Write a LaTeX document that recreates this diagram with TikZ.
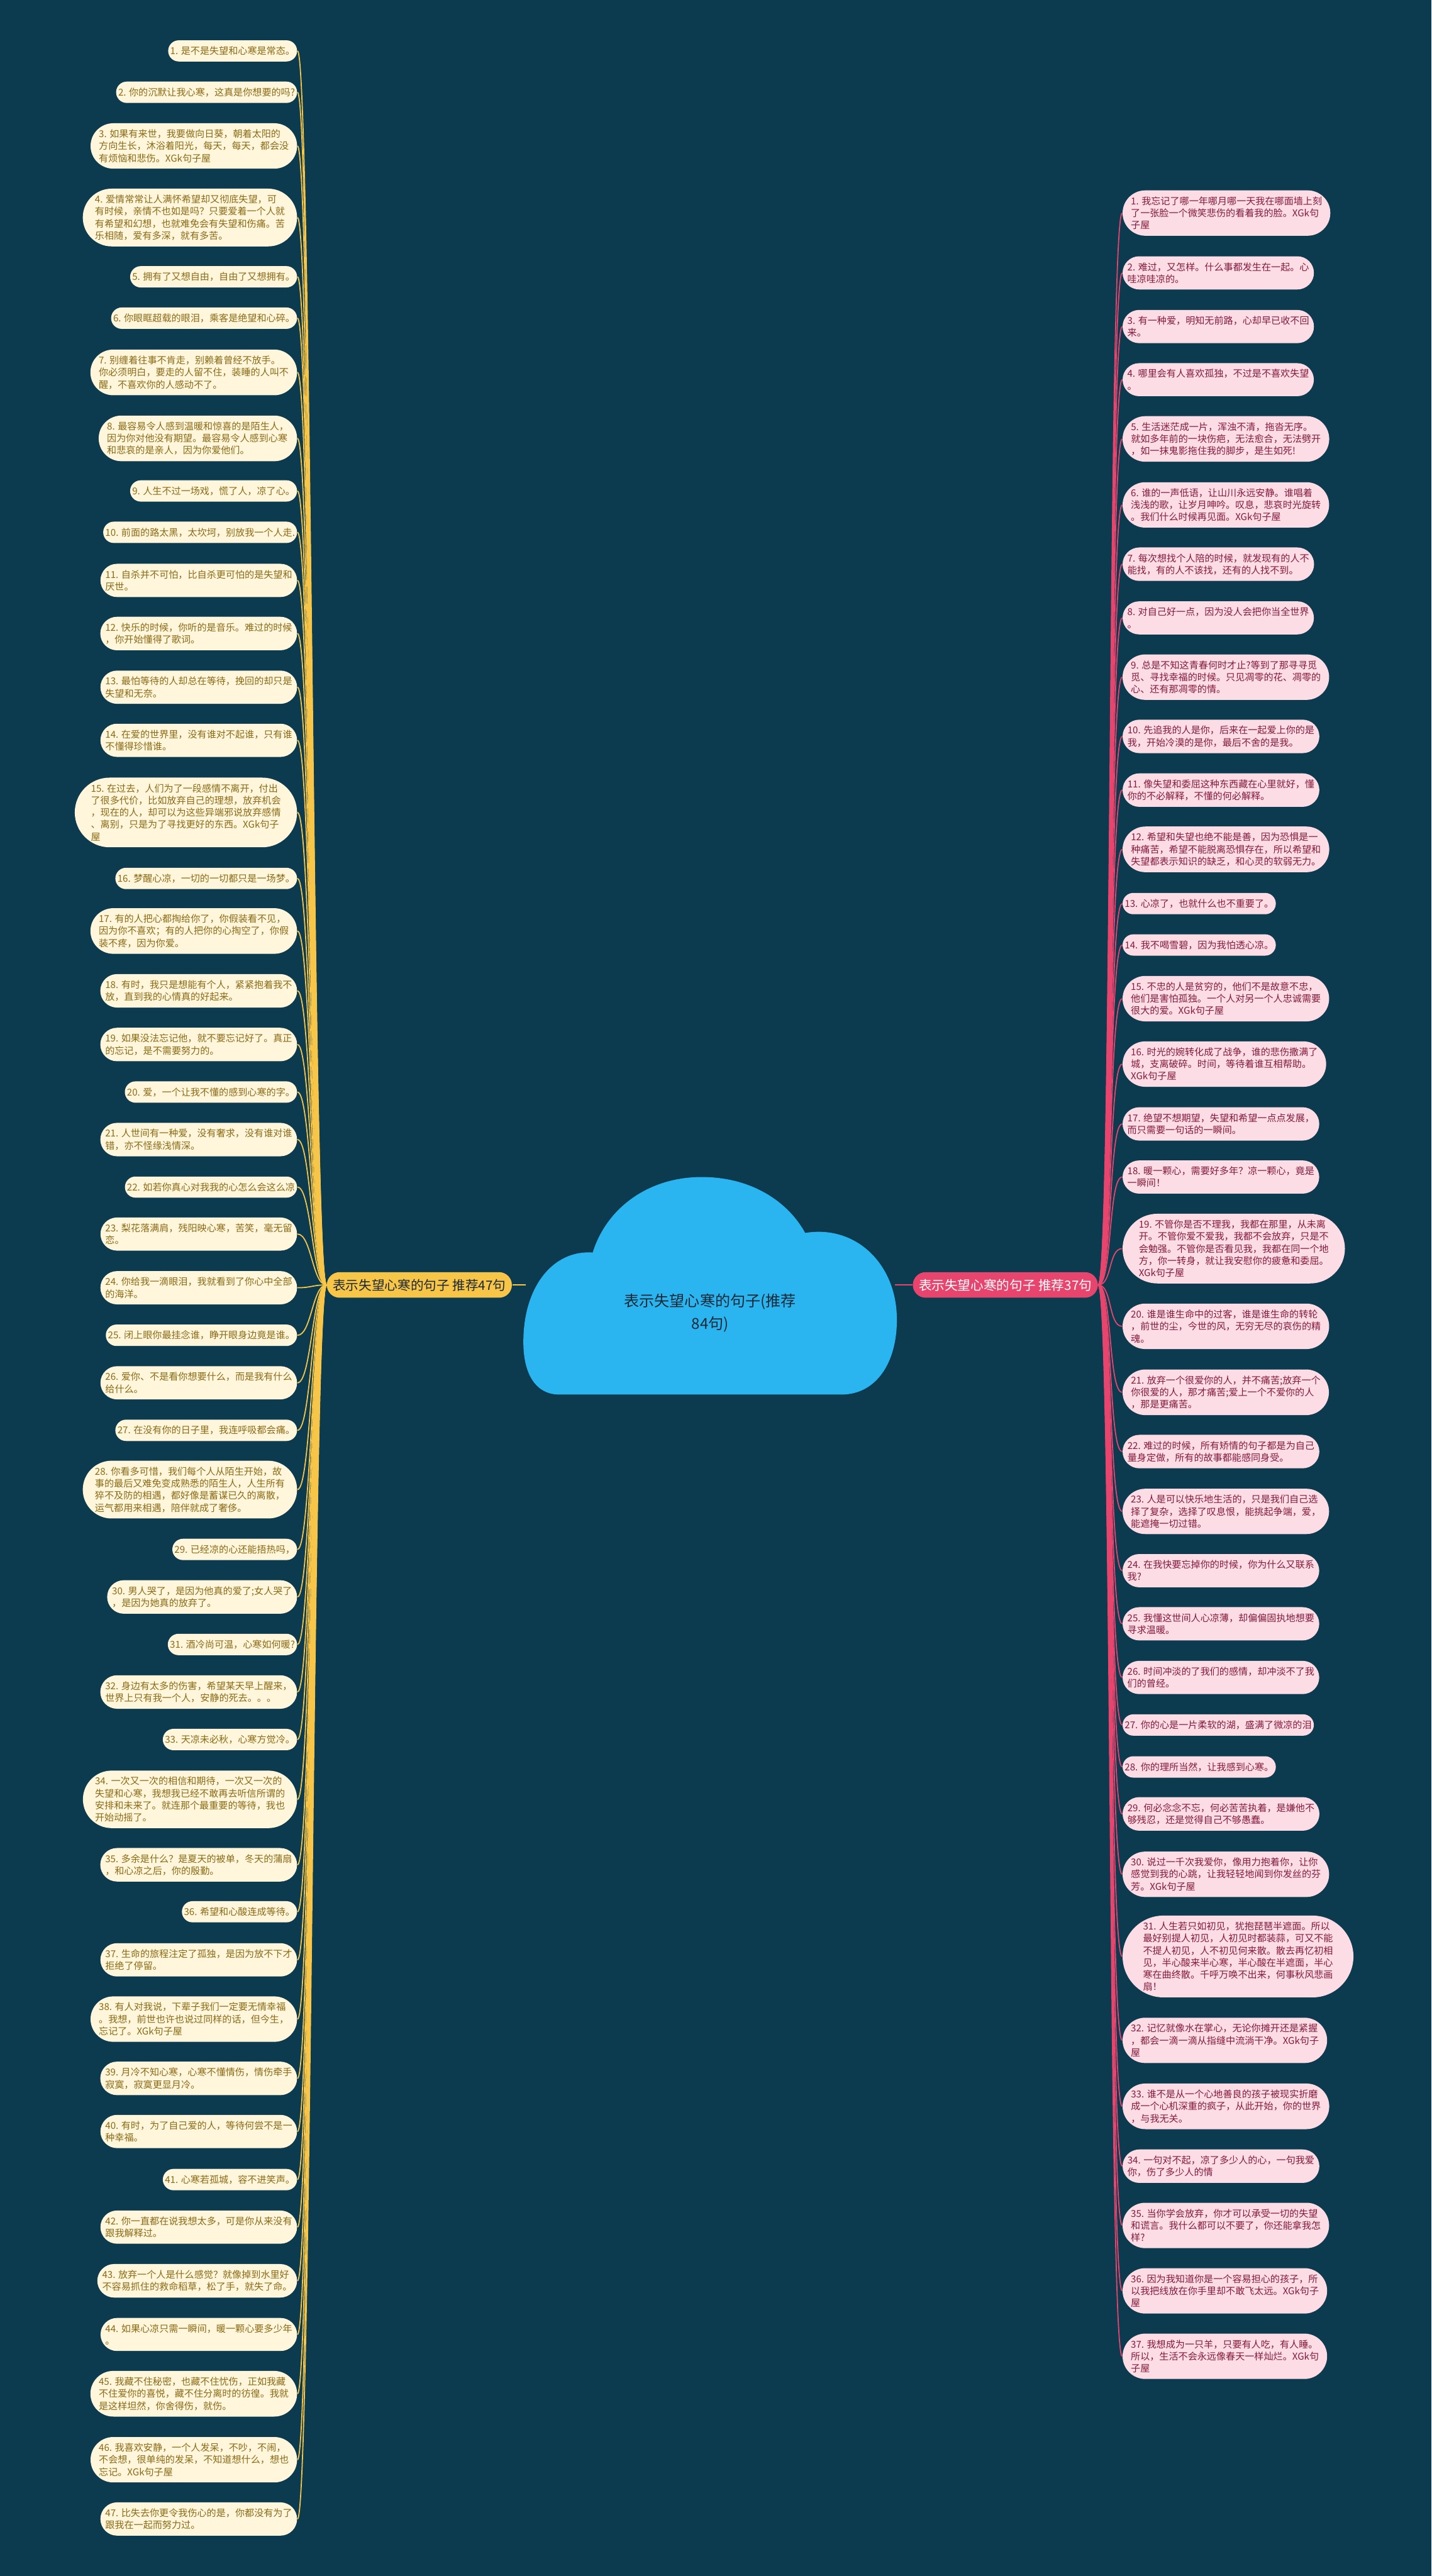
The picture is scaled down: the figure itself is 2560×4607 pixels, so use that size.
\documentclass[tikz,border=0pt]{standalone}
\usepackage{fontspec}
\usepackage{xcolor}
\usetikzlibrary{shapes.misc}
\newfontfamily\cjk{Noto Sans CJK SC}
\definecolor{bg}{HTML}{0C3A4F}
\definecolor{sky}{HTML}{2BB5F0}
\definecolor{gold}{HTML}{F7C548}
\definecolor{cream}{HTML}{FFF6DB}
\definecolor{goldtext}{HTML}{8A6A16}
\definecolor{rose}{HTML}{E8456E}
\definecolor{blush}{HTML}{FCDDE5}
\definecolor{wine}{HTML}{861A3C}
\definecolor{ink}{HTML}{1B2835}

\begin{document}
\begin{tikzpicture}[x=0.01cm,y=-0.01cm,
  leaf/.style={rounded rectangle, inner xsep=0.02cm, inner ysep=0.11cm, align=left,
    font=\cjk\fontsize{4.83pt}{6.17pt}\selectfont},
  lleaf/.style={leaf, fill=cream, text=goldtext, anchor=east},
  rleaf/.style={leaf, fill=blush, text=wine, anchor=west},
  branch/.style={rounded rectangle, inner xsep=0.08cm, inner ysep=0.12cm,
    font=\cjk\fontsize{6.6pt}{7.8pt}\selectfont},
  lline/.style={draw=gold, line width=0.02cm},
  rline/.style={draw=rose, line width=0.02cm}]
\useasboundingbox (0,0) rectangle (2560,4607);
\fill[bg] (0,0) rectangle (2560,4607);

% cloud in the middle
\fill[sky] (1000,2494) .. controls (960,2494) and (936,2460) .. (936,2400)
  .. controls (936,2300) and (990,2235) .. (1060,2240)
  .. controls (1085,2160) and (1160,2105) .. (1255,2105)
  .. controls (1345,2105) and (1410,2150) .. (1440,2205)
  .. controls (1530,2190) and (1604,2260) .. (1604,2360)
  .. controls (1604,2440) and (1565,2494) .. (1505,2494) -- cycle;
\node[align=center, text=ink, font=\cjk\fontsize{7.7pt}{11.7pt}\selectfont] (root) at (1270,2348) {表示失望心寒的句子(推荐\\84句)};
\coordinate (cloudw) at (940,2298);
\coordinate (cloude) at (1600,2298);

\node[branch, fill=gold, text=ink] (lb) at (750,2298) {表示失望心寒的句子 推荐47句};
\node[branch, fill=rose, text=white] (rb) at (1798,2298) {表示失望心寒的句子 推荐37句};
\draw[lline, line width=0.03cm] (cloudw) -- (lb.east);
\draw[rline, line width=0.03cm] (cloude) -- (rb.west);

% left leaves
\node[lleaf] (l1) at (532,91) {1. 是不是失望和心寒是常态。};
\node[lleaf] (l2) at (532,165) {2. 你的沉默让我心寒，这真是你想要的吗?};
\node[lleaf] (l3) at (532,261) {3. 如果有来世，我要做向日葵，朝着太阳的\\方向生长，沐浴着阳光，每天，每天，都会没\\有烦恼和悲伤。XGk句子屋};
\node[lleaf] (l4) at (532,389) {4. 爱情常常让人满怀希望却又彻底失望，可\\有时候，亲情不也如是吗？只要爱着一个人就\\有希望和幻想，也就难免会有失望和伤痛。苦\\乐相随，爱有多深，就有多苦。};
\node[lleaf] (l5) at (532,495) {5. 拥有了又想自由，自由了又想拥有。};
\node[lleaf] (l6) at (532,569) {6. 你眼眶超载的眼泪，乘客是绝望和心碎。};
\node[lleaf] (l7) at (532,666) {7. 别缠着往事不肯走，别赖着曾经不放手。\\你必须明白，要走的人留不住，装睡的人叫不\\醒，不喜欢你的人感动不了。};
\node[lleaf] (l8) at (532,784) {8. 最容易令人感到温暖和惊喜的是陌生人，\\因为你对他没有期望。最容易令人感到心寒\\和悲哀的是亲人，因为你爱他们。};
\node[lleaf] (l9) at (532,878) {9. 人生不过一场戏，慌了人，凉了心。};
\node[lleaf] (l10) at (532,952) {10. 前面的路太黑，太坎坷，别放我一个人走.};
\node[lleaf] (l11) at (532,1038) {11. 自杀并不可怕，比自杀更可怕的是失望和\\厌世。};
\node[lleaf] (l12) at (532,1133) {12. 快乐的时候，你听的是音乐。难过的时候\\，你开始懂得了歌词。};
\node[lleaf] (l13) at (532,1229) {13. 最怕等待的人却总在等待，挽回的却只是\\失望和无奈。};
\node[lleaf] (l14) at (532,1324) {14. 在爱的世界里，没有谁对不起谁，只有谁\\不懂得珍惜谁。};
\node[lleaf] (l15) at (532,1453) {15. 在过去，人们为了一段感情不离开，付出\\了很多代价，比如放弃自己的理想，放弃机会\\，现在的人，却可以为这些异端邪说放弃感情\\、离别，只是为了寻找更好的东西。XGk句子\\屋};
\node[lleaf] (l16) at (532,1571) {16. 梦醒心凉，一切的一切都只是一场梦。};
\node[lleaf] (l17) at (532,1665) {17. 有的人把心都掏给你了，你假装看不见，\\因为你不喜欢；有的人把你的心掏空了，你假\\装不疼，因为你爱。};
\node[lleaf] (l18) at (532,1772) {18. 有时，我只是想能有个人，紧紧抱着我不\\放，直到我的心情真的好起来。};
\node[lleaf] (l19) at (532,1868) {19. 如果没法忘记他，就不要忘记好了。真正\\的忘记，是不需要努力的。};
\node[lleaf] (l20) at (532,1953) {20. 爱，一个让我不懂的感到心寒的字。};
\node[lleaf] (l21) at (532,2038) {21. 人世间有一种爱，没有奢求，没有谁对谁\\错，亦不怪缘浅情深。};
\node[lleaf] (l22) at (532,2123) {22. 如若你真心对我我的心怎么会这么凉};
\node[lleaf] (l23) at (532,2207) {23. 梨花落满肩，残阳映心寒，苦笑，毫无留\\恋。};
\node[lleaf] (l24) at (532,2303) {24. 你给我一滴眼泪，我就看到了你心中全部\\的海洋。};
\node[lleaf] (l25) at (532,2388) {25. 闭上眼你最挂念谁，睁开眼身边竟是谁。};
\node[lleaf] (l26) at (532,2473) {26. 爱你、不是看你想要什么，而是我有什么\\给什么。};
\node[lleaf] (l27) at (532,2558) {27. 在没有你的日子里，我连呼吸都会痛。};
\node[lleaf] (l28) at (532,2664) {28. 你看多可惜，我们每个人从陌生开始，故\\事的最后又难免变成熟悉的陌生人，人生所有\\猝不及防的相遇，都好像是蓄谋已久的离散，\\运气都用来相遇，陪伴就成了奢侈。};
\node[lleaf] (l29) at (532,2771) {29. 已经凉的心还能捂热吗，};
\node[lleaf] (l30) at (532,2856) {30. 男人哭了，是因为他真的爱了;女人哭了\\，是因为她真的放弃了。};
\node[lleaf] (l31) at (532,2941) {31. 酒冷尚可温，心寒如何暖?};
\node[lleaf] (l32) at (532,3026) {32. 身边有太多的伤害，希望某天早上醒来，\\世界上只有我一个人，安静的死去。。。};
\node[lleaf] (l33) at (532,3111) {33. 天凉未必秋，心寒方觉冷。};
\node[lleaf] (l34) at (532,3218) {34. 一次又一次的相信和期待，一次又一次的\\失望和心寒，我想我已经不敢再去听信所谓的\\安排和未来了。就连那个最重要的等待，我也\\开始动摇了。};
\node[lleaf] (l35) at (532,3335) {35. 多余是什么？是夏天的被单，冬天的蒲扇\\，和心凉之后，你的殷勤。};
\node[lleaf] (l36) at (532,3419) {36. 希望和心酸连成等待。};
\node[lleaf] (l37) at (532,3505) {37. 生命的旅程注定了孤独，是因为放不下才\\拒绝了停留。};
\node[lleaf] (l38) at (532,3611) {38. 有人对我说，下辈子我们一定要无情幸福\\。我想，前世也许也说过同样的话，但今生，\\忘记了。XGk句子屋};
\node[lleaf] (l39) at (532,3717) {39. 月冷不知心寒，心寒不懂情伤，情伤牵手\\寂寞，寂寞更显月冷。};
\node[lleaf] (l40) at (532,3812) {40. 有时，为了自己爱的人，等待何尝不是一\\种幸福。};
\node[lleaf] (l41) at (532,3898) {41. 心寒若孤城，容不进笑声。};
\node[lleaf] (l42) at (532,3983) {42. 你一直都在说我想太多，可是你从来没有\\跟我解释过。};
\node[lleaf] (l43) at (532,4079) {43. 放弃一个人是什么感觉？就像掉到水里好\\不容易抓住的救命稻草，松了手，就失了命。};
\node[lleaf] (l44) at (532,4175) {44. 如果心凉只需一瞬间，暖一颗心要多少年\\。};
\node[lleaf] (l45) at (532,4281) {45. 我藏不住秘密，也藏不住忧伤，正如我藏\\不住爱你的喜悦，藏不住分离时的彷徨。我就\\是这样坦然，你舍得伤，就伤。};
\node[lleaf] (l46) at (532,4399) {46. 我喜欢安静，一个人发呆，不吵，不闹，\\不会想，很单纯的发呆，不知道想什么，想也\\忘记。XGk句子屋};
\node[lleaf] (l47) at (532,4505) {47. 比失去你更令我伤心的是，你都没有为了\\跟我在一起而努力过。};

% right leaves
\node[rleaf] (r1) at (2007,381) {1. 我忘记了哪一年哪月哪一天我在哪面墙上刻\\了一张脸一个微笑悲伤的看着我的脸。XGk句\\子屋};
\node[rleaf] (r2) at (2007,488) {2. 难过，又怎样。什么事都发生在一起。心\\哇凉哇凉的。};
\node[rleaf] (r3) at (2007,584) {3. 有一种爱，明知无前路，心却早已收不回\\来。};
\node[rleaf] (r4) at (2007,679) {4. 哪里会有人喜欢孤独，不过是不喜欢失望\\。};
\node[rleaf] (r5) at (2007,785) {5. 生活迷茫成一片，浑浊不清，拖沓无序。\\就如多年前的一块伤疤，无法愈合，无法劈开\\，如一抹鬼影拖住我的脚步，是生如死!};
\node[rleaf] (r6) at (2007,903) {6. 谁的一声低语，让山川永远安静。谁唱着\\浅浅的歌，让岁月呻吟。叹息，悲哀时光旋转\\。我们什么时候再见面。XGk句子屋};
\node[rleaf] (r7) at (2007,1009) {7. 每次想找个人陪的时候，就发现有的人不\\能找，有的人不该找，还有的人找不到。};
\node[rleaf] (r8) at (2007,1105) {8. 对自己好一点，因为没人会把你当全世界\\。};
\node[rleaf] (r9) at (2007,1211) {9. 总是不知这青春何时才止?等到了那寻寻觅\\觅、寻找幸福的时候。只见凋零的花、凋零的\\心、还有那凋零的情。};
\node[rleaf] (r10) at (2007,1317) {10. 先追我的人是你，后来在一起爱上你的是\\我，开始冷漠的是你，最后不舍的是我。};
\node[rleaf] (r11) at (2007,1413) {11. 像失望和委屈这种东西藏在心里就好，懂\\你的不必解释，不懂的何必解释。};
\node[rleaf] (r12) at (2007,1519) {12. 希望和失望也绝不能是善，因为恐惧是一\\种痛苦，希望不能脱离恐惧存在，所以希望和\\失望都表示知识的缺乏，和心灵的软弱无力。};
\node[rleaf] (r13) at (2007,1616) {13. 心凉了，也就什么也不重要了。};
\node[rleaf] (r14) at (2007,1690) {14. 我不喝雪碧，因为我怕透心凉。};
\node[rleaf] (r15) at (2007,1786) {15. 不忠的人是贫穷的，他们不是故意不忠，\\他们是害怕孤独。一个人对另一个人忠诚需要\\很大的爱。XGk句子屋};
\node[rleaf] (r16) at (2007,1903) {16. 时光的婉转化成了战争，谁的悲伤撒满了\\城，支离破碎。时间，等待着谁互相帮助。\\XGk句子屋};
\node[rleaf] (r17) at (2007,2010) {17. 绝望不想期望，失望和希望一点点发展，\\而只需要一句话的一瞬间。};
\node[rleaf] (r18) at (2007,2105) {18. 暖一颗心，需要好多年？凉一颗心，竟是\\一瞬间！};
\node[rleaf] (r19) at (2007,2233) {19. 不管你是否不理我，我都在那里，从未离\\开。不管你爱不爱我，我都不会放弃，只是不\\会勉强。不管你是否看见我，我都在同一个地\\方，你一转身，就让我安慰你的疲惫和委屈。\\XGk句子屋};
\node[rleaf] (r20) at (2007,2372) {20. 谁是谁生命中的过客，谁是谁生命的转轮\\，前世的尘，今世的风，无穷无尽的哀伤的精\\魂。};
\node[rleaf] (r21) at (2007,2490) {21. 放弃一个很爱你的人，并不痛苦;放弃一个\\你很爱的人，那才痛苦;爱上一个不爱你的人\\，那是更痛苦。};
\node[rleaf] (r22) at (2007,2596) {22. 难过的时候，所有矫情的句子都是为自己\\量身定做，所有的故事都能感同身受。};
\node[rleaf] (r23) at (2007,2703) {23. 人是可以快乐地生活的，只是我们自己选\\择了复杂，选择了叹息恨，能挑起争端，爱，\\能遮掩一切过错。};
\node[rleaf] (r24) at (2007,2809) {24. 在我快要忘掉你的时候，你为什么又联系\\我?};
\node[rleaf] (r25) at (2007,2904) {25. 我懂这世间人心凉薄，却偏偏固执地想要\\寻求温暖。};
\node[rleaf] (r26) at (2007,3000) {26. 时间冲淡的了我们的感情，却冲淡不了我\\们的曾经。};
\node[rleaf] (r27) at (2007,3085) {27. 你的心是一片柔软的湖，盛满了微凉的泪};
\node[rleaf] (r28) at (2007,3160) {28. 你的理所当然，让我感到心寒。};
\node[rleaf] (r29) at (2007,3244) {29. 何必念念不忘，何必苦苦执着，是嫌他不\\够残忍，还是觉得自己不够愚蠢。};
\node[rleaf] (r30) at (2007,3352) {30. 说过一千次我爱你，像用力抱着你，让你\\感觉到我的心跳，让我轻轻地闻到你发丝的芬\\芳。XGk句子屋};
\node[rleaf] (r31) at (2007,3499) {31. 人生若只如初见，犹抱琵琶半遮面。所以\\最好别提人初见，人初见时都装蒜，可又不能\\不提人初见，人不初见何来散。散去再忆初相\\见，半心酸来半心寒，半心酸在半遮面，半心\\寒在曲终散。千呼万唤不出来，何事秋风悲画\\扇！};
\node[rleaf] (r32) at (2007,3649) {32. 记忆就像水在掌心，无论你摊开还是紧握\\，都会一滴一滴从指缝中流淌干净。XGk句子\\屋};
\node[rleaf] (r33) at (2007,3767) {33. 谁不是从一个心地善良的孩子被现实折磨\\成一个心机深重的疯子，从此开始，你的世界\\，与我无关。};
\node[rleaf] (r34) at (2007,3874) {34. 一句对不起，凉了多少人的心，一句我爱\\你，伤了多少人的情};
\node[rleaf] (r35) at (2007,3980) {35. 当你学会放弃，你才可以承受一切的失望\\和谎言。我什么都可以不要了，你还能拿我怎\\样?};
\node[rleaf] (r36) at (2007,4097) {36. 因为我知道你是一个容易担心的孩子，所\\以我把线放在你手里却不敢飞太远。XGk句子\\屋};
\node[rleaf] (r37) at (2007,4214) {37. 我想成为一只羊，只要有人吃，有人睡。\\所以，生活不会永远像春天一样灿烂。XGk句\\子屋};

% branch curves
\foreach \i in {1,...,47}
  \draw[lline] (lb.west) .. controls +(-25,0) and +(25,0) .. (l\i.east);
\foreach \i in {1,...,37}
  \draw[rline] (rb.east) .. controls +(25,0) and +(-25,0) .. (r\i.west);
\end{tikzpicture}
\end{document}
